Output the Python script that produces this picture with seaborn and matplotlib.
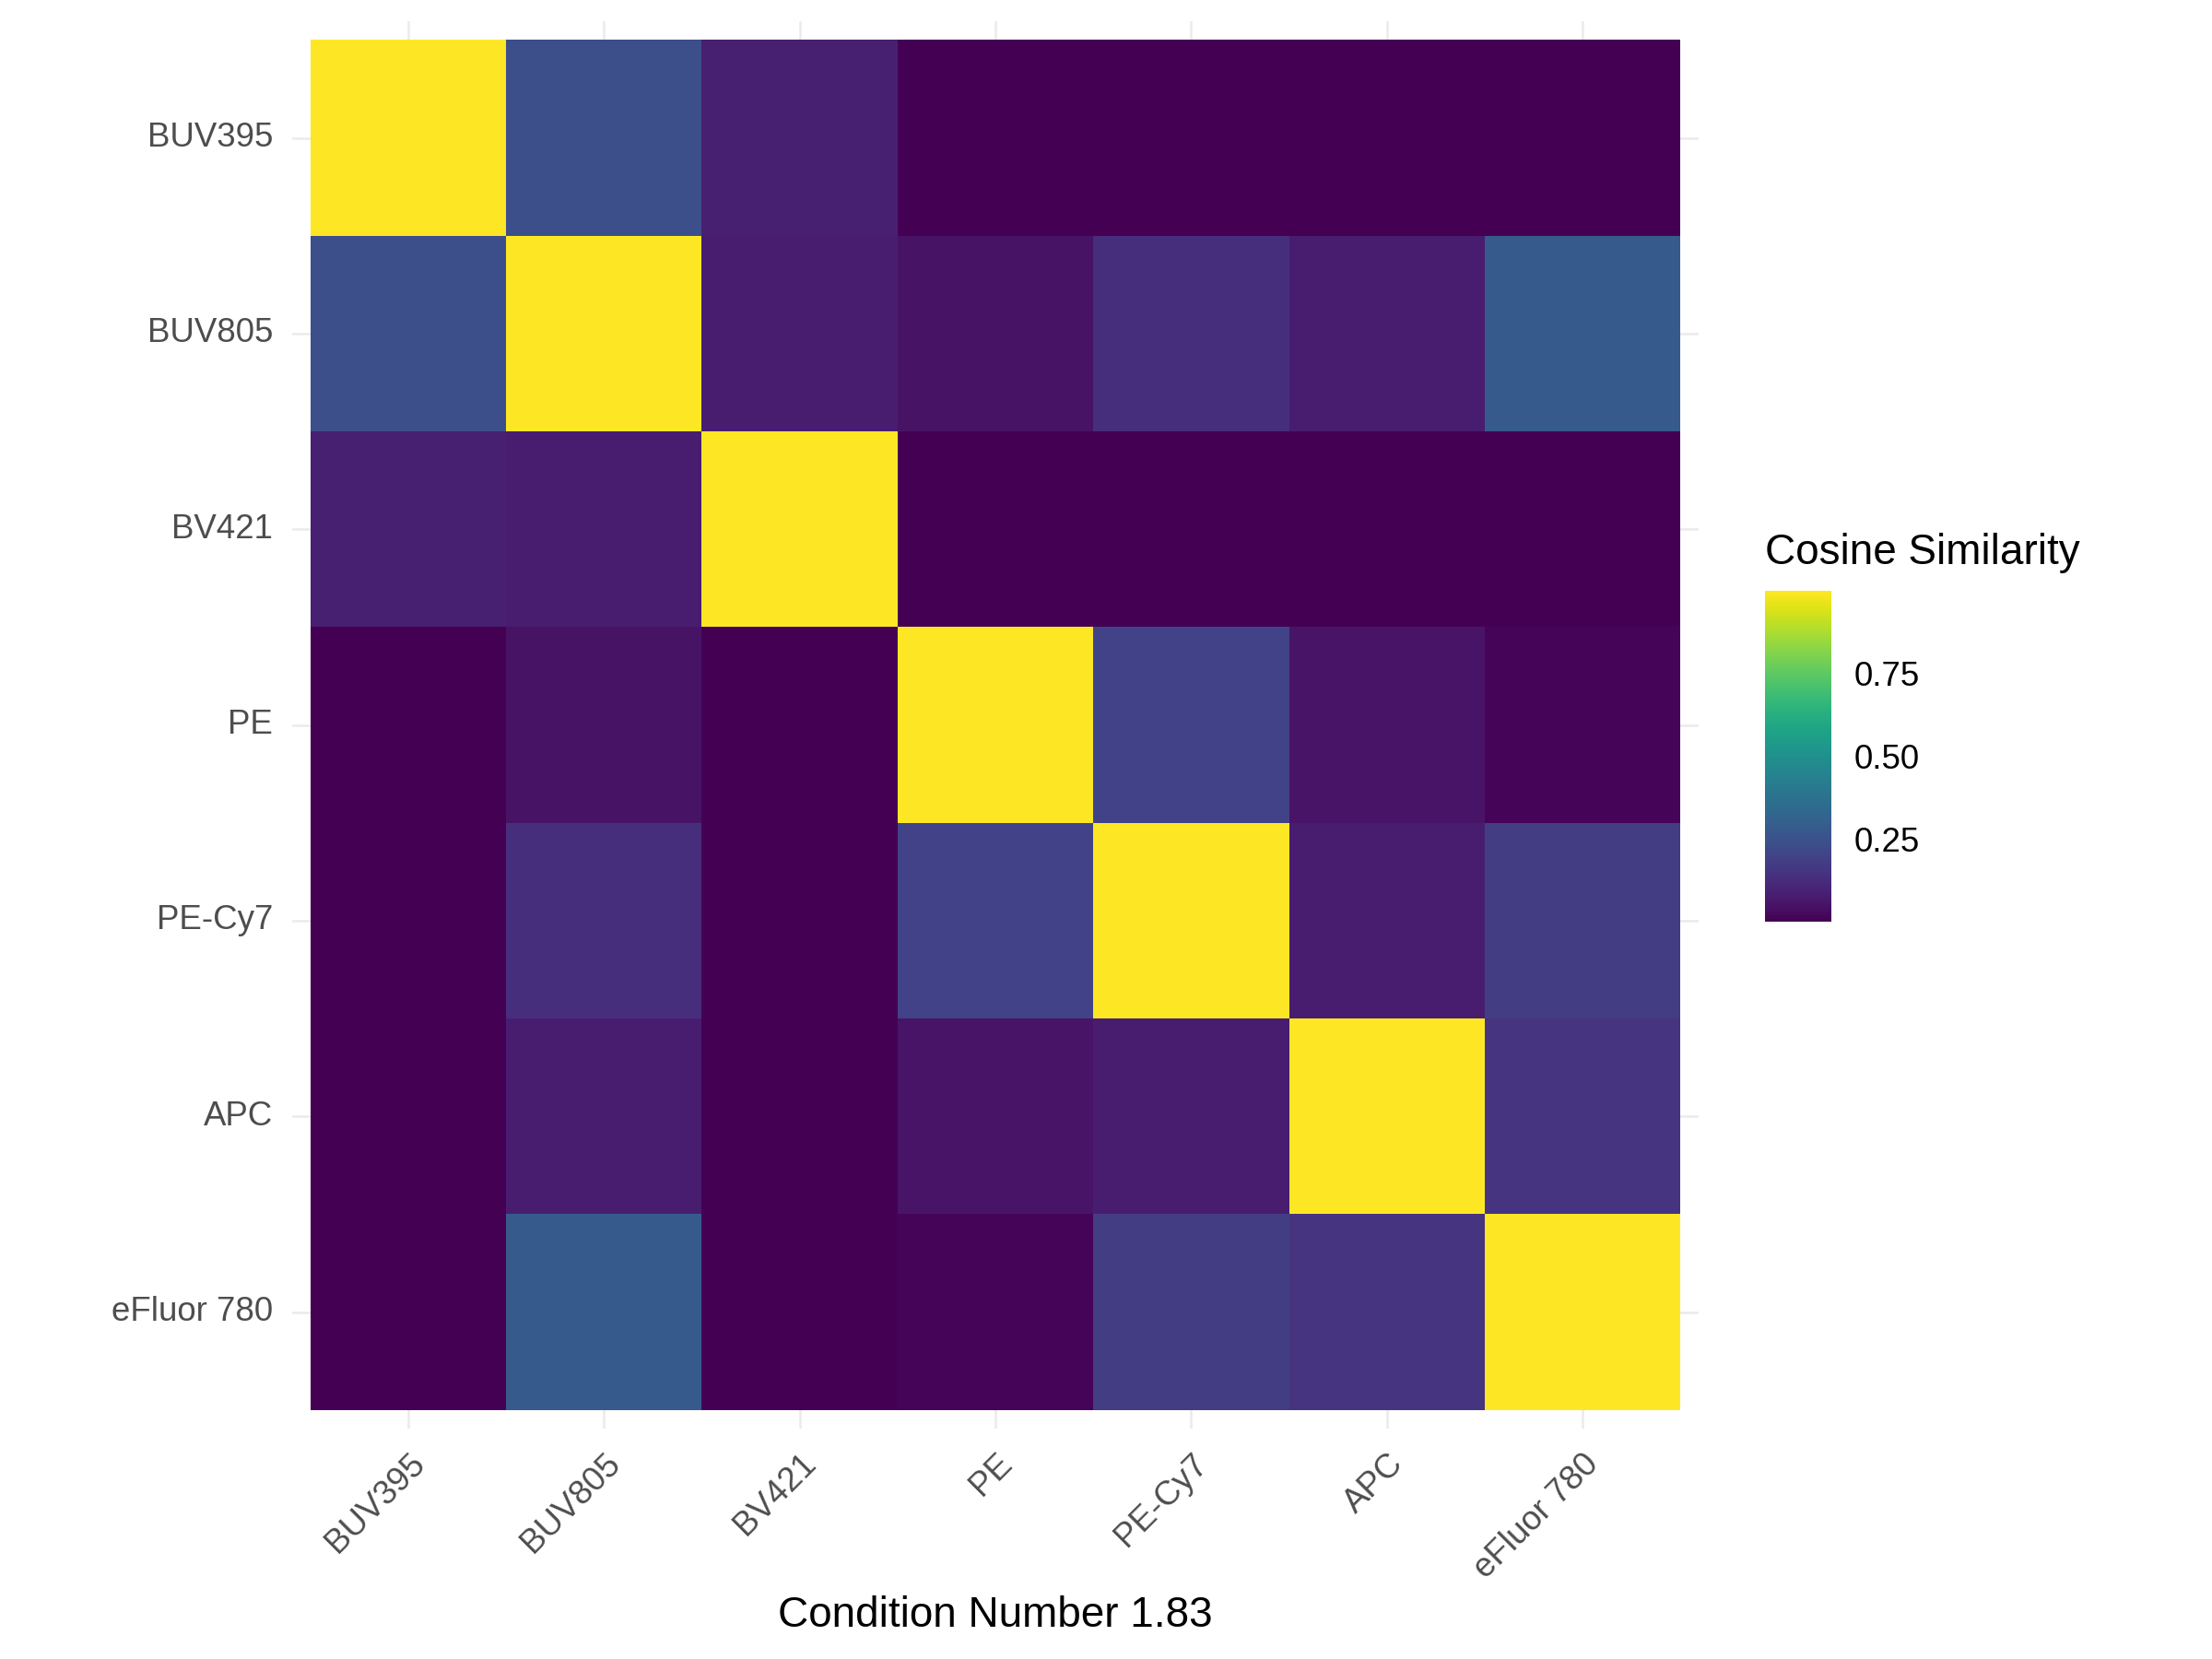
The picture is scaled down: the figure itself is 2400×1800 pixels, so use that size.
import numpy as np
import pandas as pd
import matplotlib
matplotlib.use("Agg")
import matplotlib.pyplot as plt
import seaborn as sns

# fluorochromes, same order on both axes
fluors = ["BUV395", "BUV805", "BV421", "PE", "PE-Cy7", "APC", "eFluor 780"]

# cosine similarity, one row per fluor
buv395 = [1.000, 0.240, 0.090, 0.003, 0.002, 0.001, 0.002]
buv805 = [0.240, 1.000, 0.080, 0.050, 0.130, 0.080, 0.280]
bv421  = [0.090, 0.080, 1.000, 0.004, 0.002, 0.001, 0.003]
pe     = [0.003, 0.050, 0.004, 1.000, 0.200, 0.055, 0.010]
pecy7  = [0.002, 0.130, 0.002, 0.200, 1.000, 0.080, 0.180]
apc    = [0.001, 0.080, 0.001, 0.055, 0.080, 1.000, 0.150]
ef780  = [0.002, 0.280, 0.003, 0.010, 0.180, 0.150, 1.000]

condition_number = 1.83
cbar_ticks = [0.25, 0.50, 0.75]

sim = pd.DataFrame([buv395, buv805, bv421, pe, pecy7, apc, ef780],
                   index=fluors, columns=fluors)

sns.set_style("white")
plt.rcParams["font.family"] = ["Liberation Sans", "DejaVu Sans"]

fig = plt.figure(figsize=(8, 6), dpi=300)
ax = fig.add_axes([0.132, 0.139, 0.636, 0.848])
cax = fig.add_axes([0.798, 0.4444, 0.030, 0.1994])

sns.heatmap(sim, ax=ax, cbar_ax=cax, cmap="viridis", linewidths=0,
            cbar_kws={"ticks": cbar_ticks})

# ggplot-like panel: grid lines peeking out around the tiles
pad = 0.094
n = len(fluors)
ax.set_xlim(-pad, n + pad)
ax.set_ylim(n + pad, -pad)
ax.set_axisbelow(True)
ax.grid(True, color="#ebebeb", lw=0.6)
for s in ax.spines.values():
    s.set_visible(False)
ax.tick_params(length=0, pad=5, labelsize=8.8, colors="#4d4d4d")
plt.setp(ax.get_yticklabels(), rotation=0)
plt.setp(ax.get_xticklabels(), rotation=45, ha="right", va="top",
         rotation_mode="anchor")
ax.set_xlabel("")
ax.set_ylabel("")

fig.text(0.45, 1 - 1765 / 1800, f"Condition Number {condition_number}",
         ha="center", va="baseline", fontsize=11, color="black")

cbar = ax.collections[0].colorbar
cbar.outline.set_visible(False)
cbar.ax.yaxis.set_ticks_position("both")
cbar.ax.tick_params(direction="in", color="white", length=3.4, width=0.6,
                    labelsize=8.8, labelcolor="black", pad=5.8,
                    labelleft=False, labelright=True)
cbar.ax.set_yticklabels([f"{t:.2f}" for t in cbar_ticks])
fig.text(0.798, 1 - 612 / 1800, "Cosine Similarity", ha="left",
         va="baseline", fontsize=11, color="black")

fig.savefig("out.png", dpi=300, facecolor="white")
